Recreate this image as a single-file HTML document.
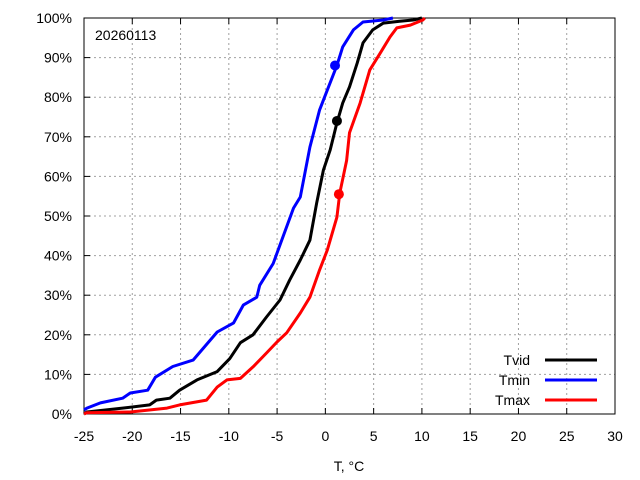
<!DOCTYPE html>
<html><head><meta charset="utf-8"><style>
body{margin:0;background:#fff}
svg{display:block;font-family:"Liberation Sans",sans-serif;font-size:14px}
</style></head><body>
<svg id="c" width="640" height="480"></svg>
<script>
const xTicks=[-25,-20,-15,-10,-5,0,5,10,15,20,25,30];
const yTicks=[0,10,20,30,40,50,60,70,80,90,100];
const seriesNames=["Tvid","Tmin","Tmax"];
const seriesColors=["#000000","#0000ff","#ff0000"];
const tvidT=[-25,-24.7,-21,-18.2,-17.5,-16.1,-15.1,-13.3,-11.2,-9.9,-8.8,-7.5,-6.1,-4.7,-3.7,-2.6,-1.6,-0.9,-0.2,0.5,1.2,1.8,2.5,3.3,3.9,4.9,6,7.7,9.1,10];
const tvidP=[0,0.5,1.5,2.3,3.5,4,6,8.6,10.7,14,18,20,24.5,28.8,33.8,38.9,43.9,53.3,61.6,66.7,73.5,78.5,82.6,88.6,93.7,97,98.7,99.2,99.5,100];
const tminT=[-25,-24.7,-23.3,-21,-20.2,-18.4,-17.6,-15.8,-13.7,-11.2,-9.5,-8.5,-7.1,-6.8,-5.4,-4.4,-3.3,-2.6,-1.6,-0.6,0.2,1.2,1.8,2.9,3.9,6,7];
const tminP=[1,1.5,2.8,4,5.3,6,9.3,12,13.6,20.7,23,27.5,29.5,32.5,38,44.7,52,54.8,67.4,76.8,81.8,88,92.7,97,99,99.5,100];
const tmaxT=[-25,-24.7,-20.2,-16.4,-15.1,-12.3,-11.2,-10.2,-8.8,-7.5,-6.1,-5,-4,-2.6,-1.6,-0.6,0.2,1.2,1.5,2.2,2.5,3.6,4.6,5.7,6.7,7.4,8.8,10.1,10.3];
const tmaxP=[0,0.3,0.5,1.5,2.3,3.5,6.8,8.6,9,11.9,15.4,18.2,20.5,25.5,29.5,36.4,41.4,49.7,55.8,64,71,78.5,86.9,91.2,95.2,97.5,98.2,99.5,100];
const markerT=[1.2,1.0,1.4];
const markerP=[74,88,55.5];

const L=84,R=615,T=18,B=414;
const xs=v=>L+(v+25)/55*(R-L);
const ys=v=>B-v/100*(B-T);
const svg=document.getElementById('c');
const NS='http://www.w3.org/2000/svg';
function mk(tag,attrs,parent){const e=document.createElementNS(NS,tag);for(const k in attrs)e.setAttribute(k,attrs[k]);(parent||svg).appendChild(e);return e;}

// grid
xTicks.forEach((t,i)=>{
  if(i>0&&i<xTicks.length-1){const g=mk('line',{x1:xs(t),x2:xs(t),y1:T,y2:B,stroke:'#a0a0a0','stroke-dasharray':'2,3'});
  
  }
  const tk=mk('line',{x1:xs(t),x2:xs(t),y1:B,y2:B-6,stroke:'#000'});
  
  
  const tk2=mk('line',{x1:xs(t),x2:xs(t),y1:T,y2:T+6,stroke:'#000'});
  
  
  const lb=mk('text',{x:xs(t),y:441,'text-anchor':'middle'});lb.textContent=t;
  
  
});
yTicks.forEach((t,i)=>{
  if(i>0&&i<yTicks.length-1){const g=mk('line',{x1:L,x2:R,y1:ys(t),y2:ys(t),stroke:'#a0a0a0','stroke-dasharray':'2,3'});
  
  }
  const tk=mk('line',{x1:L,x2:L+6,y1:ys(t),y2:ys(t),stroke:'#000'});
  
  
  const lb=mk('text',{x:72,y:ys(t)+5,'text-anchor':'end'});lb.textContent=t+'%';
  
  
});
const fr=mk('rect',{x:L,y:T,width:R-L,height:B-T,fill:'none',stroke:'#000'});



const data=[[tvidT,tvidP],[tminT,tminP],[tmaxT,tmaxP]];
data.forEach((d,i)=>{
  const pts=d[0].map((t,j)=>xs(t).toFixed(1)+','+ys(d[1][j]).toFixed(1)).join(' ');
  const pl=mk('polyline',{points:pts,fill:'none',stroke:seriesColors[i],'stroke-width':3,'stroke-linejoin':'round'});
  
  
});
data.forEach((d,i)=>{
  const c=mk('circle',{cx:xs(markerT[i]),cy:ys(markerP[i]),r:5,fill:seriesColors[i]});
  
  
});
// legend
seriesNames.forEach((n,i)=>{
  const y=360+i*20;
  const tx=mk('text',{x:530,y:y+5,'text-anchor':'end'});tx.textContent=n;
  
  
  const ln=mk('line',{x1:545,x2:597,y1:y,y2:y,stroke:seriesColors[i],'stroke-width':3});
  
  
});
const ttl=mk('text',{x:95,y:40});ttl.textContent='20260113';


const xt=mk('text',{x:349,y:471,'text-anchor':'middle'});xt.textContent='T, °C';


</script>
</body></html>
